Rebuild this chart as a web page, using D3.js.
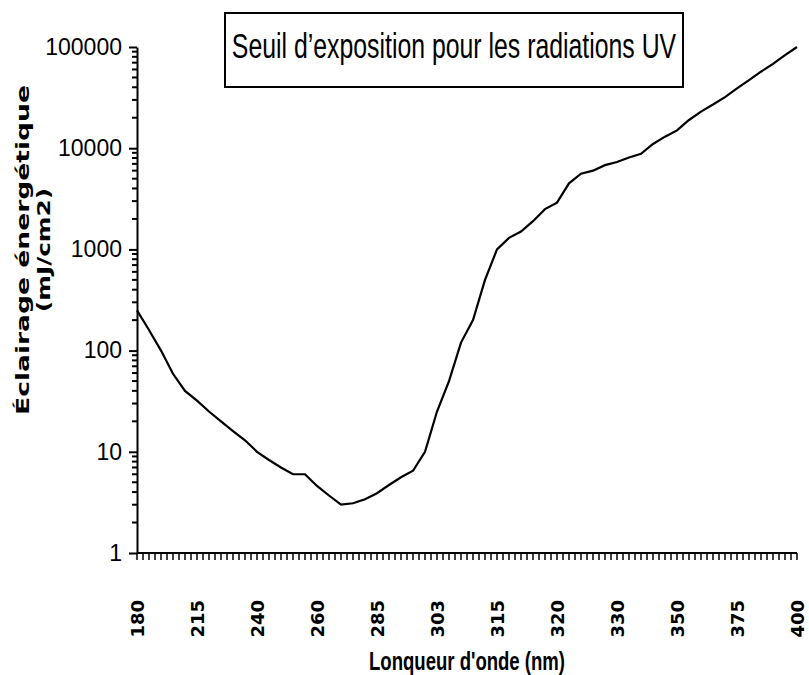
<!DOCTYPE html>
<meta charset="utf-8">
<style>
body { margin: 0; background: #fff; }
.axis path, .axis line { stroke: #000; stroke-width: 2px; }
.ylab { font: 23px "Liberation Sans Narrow", sans-serif; }
.xlab { font: bold 18px "DejaVu Sans", sans-serif; }
</style>
<body>
<script src="https://d3js.org/d3.v7.min.js"></script>
<script>

// wavelengths (nm) and exposure limits (mJ/cm2)
const wavelengths = [180,190,200,205,210,215,220,225,230,235,240,245,250,254,255,260,265,270,275,280,
  285,290,295,297,300,303,305,308,310,313,315,316,317,318,319,320,322,323,325,328,
  330,333,335,340,345,350,355,360,365,370,375,380,385,390,395,400];
const limits = [250,160,100,59,40,32,25,20,16,13,10,8.3,7,6,6,4.6,3.7,3,3.1,3.4,
  3.9,4.7,5.6,6.5,10,25,50,120,200,500,1000,1300,1500,1900,2500,2900,4500,5600,6000,6800,
  7300,8100,8800,11000,13000,15000,19000,23000,27000,32000,39000,47000,57000,68000,83000,100000];
const yTicks = [1,10,100,1000,10000,100000];
const title = "Seuil d\u2019exposition pour les radiations UV";

const W = 809, H = 675;
const mLeft = 137, mRight = 797, mTop = 47, mBottom = 553;

const svg = d3.select("body").append("svg")
    .attr("width", W).attr("height", H);

// scales
const x = d3.scalePoint().domain(d3.range(wavelengths.length)).range([mLeft, mRight]);
const y = d3.scaleLog().domain([1, 100000]).range([mBottom, mTop]);

// minor y ticks
const minor = [];
yTicks.slice(0, -1).forEach(t => { for (let k = 2; k <= 9; k++) minor.push(t * k); });
svg.append("g").selectAll("line").data(minor).enter().append("line")
    .attr("x1", mLeft - 5).attr("x2", mLeft)
    .attr("y1", d => y(d)).attr("y2", d => y(d))
    .attr("stroke", "#000").attr("stroke-width", 2);

// y axis
svg.append("g")
    .attr("class", "axis")
    .attr("transform", `translate(${mLeft},0)`)
    .call(d3.axisLeft(y).tickValues(yTicks).tickSize(8).tickSizeOuter(0).tickFormat(d3.format("d")))
    .call(g => g.selectAll("text").attr("class", "ylab").attr("x", -15).attr("fill", "#000"));

// x axis: small ticks every half category
const step = x.step();
const xt = d3.range(0, (wavelengths.length - 1) * 2 + 1).map(i => mLeft + i * step / 2);
svg.append("line")
    .attr("x1", mLeft).attr("x2", mRight).attr("y1", mBottom).attr("y2", mBottom)
    .attr("stroke", "#000").attr("stroke-width", 2);
svg.append("g").selectAll("line").data(xt).enter().append("line")
    .attr("x1", d => d).attr("x2", d => d)
    .attr("y1", mBottom).attr("y2", mBottom + 7)
    .attr("stroke", "#000").attr("stroke-width", 1.5);

// x labels every 5th category
svg.append("g").selectAll("text")
    .data(d3.range(0, wavelengths.length, 5))
    .enter().append("text")
    .attr("class", "xlab")
    .attr("transform", d => `translate(${x(d) + 7},600) rotate(-90)`)
    .attr("text-anchor", "end")
    .text(d => wavelengths[d]);

// the curve
const line = d3.line()
    .x((d, i) => x(i))
    .y(d => y(d));
svg.append("path")
    .datum(limits)
    .attr("fill", "none")
    .attr("stroke", "#000")
    .attr("stroke-width", 2.2)
    .attr("d", line);

// title box
svg.append("rect")
    .attr("x", 225).attr("y", 13).attr("width", 458).attr("height", 74)
    .attr("fill", "#fff").attr("stroke", "#000").attr("stroke-width", 2);
svg.append("text")
    .attr("transform", "translate(454,58) scale(0.69,1)")
    .attr("text-anchor", "middle")
    .style("font", "36px 'Liberation Sans Narrow', sans-serif")
    .text(title);

// axis titles
svg.append("text")
    .attr("transform", "translate(467,670)")
    .attr("text-anchor", "middle")
    .attr("textLength", 196).attr("lengthAdjust", "spacingAndGlyphs")
    .style("font", "bold 25px 'Liberation Sans Narrow', sans-serif")
    .text("Lonqueur d'onde  (nm)");

svg.append("text")
    .attr("transform", "translate(29,250) rotate(-90)")
    .attr("text-anchor", "middle")
    .attr("textLength", 330).attr("lengthAdjust", "spacingAndGlyphs")
    .style("font", "bold 18px 'DejaVu Sans', sans-serif")
    .text("\u00c9clairage \u00e9nerg\u00e9tique");
svg.append("text")
    .attr("transform", "translate(50,250) rotate(-90)")
    .attr("text-anchor", "middle")
    .attr("textLength", 124).attr("lengthAdjust", "spacingAndGlyphs")
    .style("font", "bold 18px 'DejaVu Sans', sans-serif")
    .text("(mJ/cm2)");

</script>
</body>
